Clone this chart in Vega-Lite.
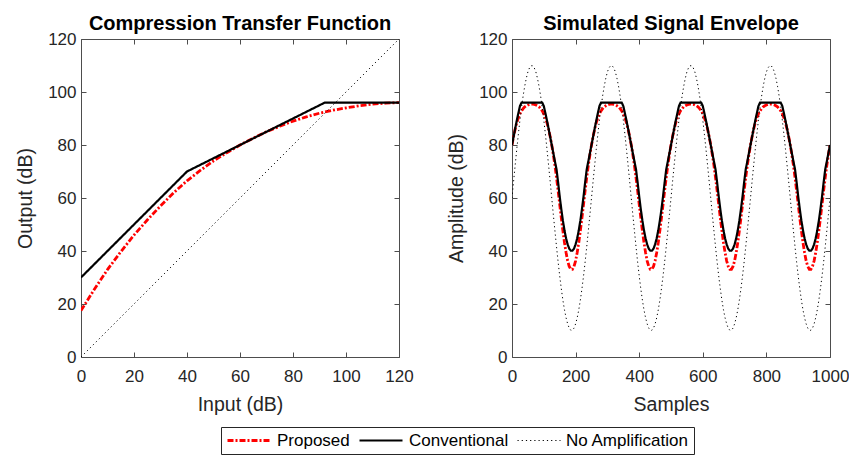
{
  "$schema": "https://vega.github.io/schema/vega-lite/v6.json",
  "padding": {"left": 15, "top": 14, "right": 0, "bottom": 0},
  "background": "white",
  "datasets": {
    "tf": [
      {"x": 0, "y": 17.5, "s": "p"}, {"x": 5, "y": 25.5, "s": "p"}, {"x": 10, "y": 33, "s": "p"}, {"x": 15, "y": 39.7, "s": "p"},
      {"x": 20, "y": 46, "s": "p"}, {"x": 25, "y": 51.7, "s": "p"}, {"x": 30, "y": 57, "s": "p"}, {"x": 35, "y": 62, "s": "p"},
      {"x": 40, "y": 66.5, "s": "p"}, {"x": 45, "y": 70.4, "s": "p"}, {"x": 50, "y": 74, "s": "p"}, {"x": 55, "y": 77.1, "s": "p"},
      {"x": 60, "y": 80, "s": "p"}, {"x": 65, "y": 82.6, "s": "p"}, {"x": 70, "y": 85, "s": "p"}, {"x": 75, "y": 87.1, "s": "p"},
      {"x": 80, "y": 89, "s": "p"}, {"x": 85, "y": 90.6, "s": "p"}, {"x": 90, "y": 92, "s": "p"}, {"x": 95, "y": 93.1, "s": "p"},
      {"x": 100, "y": 94, "s": "p"}, {"x": 105, "y": 94.8, "s": "p"}, {"x": 110, "y": 95.4, "s": "p"}, {"x": 115, "y": 95.8, "s": "p"},
      {"x": 120, "y": 96, "s": "p"},
      {"x": 0, "y": 30, "s": "c"}, {"x": 40, "y": 70, "s": "c"}, {"x": 92, "y": 96, "s": "c"}, {"x": 120, "y": 96, "s": "c"},
      {"x": 0, "y": 0, "s": "a"}, {"x": 120, "y": 120, "s": "a"}
    ],
    "env": [
      {"n":0,"p":80,"c":80,"a":60},{"n":5,"p":83.2,"c":83.1,"a":66.3},{"n":10,"p":86,"c":86.2,"a":72.4},{"n":15,"p":88.4,"c":89.2,"a":78.4},{"n":20,"p":90.3,"c":92,"a":84.1},
      {"n":25,"p":91.8,"c":94.7,"a":89.4},{"n":30,"p":92.9,"c":96,"a":94.2},{"n":35,"p":93.7,"c":96,"a":98.5},{"n":40,"p":94.4,"c":96,"a":102.2},{"n":45,"p":94.8,"c":96,"a":105.2},
      {"n":50,"p":95.1,"c":96,"a":107.6},{"n":55,"p":95.3,"c":96,"a":109.1},{"n":60,"p":95.4,"c":96,"a":109.9},{"n":65,"p":95.4,"c":96,"a":109.9},{"n":70,"p":95.3,"c":96,"a":109.1},
      {"n":75,"p":95.1,"c":96,"a":107.6},{"n":80,"p":94.8,"c":96,"a":105.2},{"n":85,"p":94.4,"c":96,"a":102.2},{"n":90,"p":93.7,"c":96,"a":98.5},{"n":95,"p":92.9,"c":96,"a":94.2},
      {"n":100,"p":91.8,"c":94.7,"a":89.4},{"n":105,"p":90.3,"c":92,"a":84.1},{"n":110,"p":88.4,"c":89.2,"a":78.4},{"n":115,"p":86,"c":86.2,"a":72.4},{"n":120,"p":83.2,"c":83.1,"a":66.3},
      {"n":125,"p":80,"c":80,"a":60},{"n":130,"p":76.3,"c":76.9,"a":53.7},{"n":135,"p":72.3,"c":73.8,"a":47.6},{"n":140,"p":67.7,"c":70.8,"a":41.6},{"n":145,"p":62.8,"c":65.9,"a":35.9},
      {"n":150,"p":57.6,"c":60.6,"a":30.6},{"n":155,"p":52.5,"c":55.8,"a":25.8},{"n":160,"p":47.7,"c":51.5,"a":21.5},{"n":165,"p":43.2,"c":47.8,"a":17.8},{"n":170,"p":39.4,"c":44.8,"a":14.8},
      {"n":175,"p":36.3,"c":42.5,"a":12.5},{"n":180,"p":34.2,"c":40.9,"a":10.9},{"n":185,"p":33.1,"c":40.1,"a":10.1},{"n":190,"p":33.1,"c":40.1,"a":10.1},{"n":195,"p":34.2,"c":40.9,"a":10.9},
      {"n":200,"p":36.3,"c":42.5,"a":12.5},{"n":205,"p":39.4,"c":44.8,"a":14.8},{"n":210,"p":43.2,"c":47.8,"a":17.8},{"n":215,"p":47.7,"c":51.5,"a":21.5},{"n":220,"p":52.5,"c":55.8,"a":25.8},
      {"n":225,"p":57.6,"c":60.6,"a":30.6},{"n":230,"p":62.8,"c":65.9,"a":35.9},{"n":235,"p":67.7,"c":70.8,"a":41.6},{"n":240,"p":72.3,"c":73.8,"a":47.6},{"n":245,"p":76.3,"c":76.9,"a":53.7},
      {"n":250,"p":80,"c":80,"a":60},{"n":255,"p":83.2,"c":83.1,"a":66.3},{"n":260,"p":86,"c":86.2,"a":72.4},{"n":265,"p":88.4,"c":89.2,"a":78.4},{"n":270,"p":90.3,"c":92,"a":84.1},
      {"n":275,"p":91.8,"c":94.7,"a":89.4},{"n":280,"p":92.9,"c":96,"a":94.2},{"n":285,"p":93.7,"c":96,"a":98.5},{"n":290,"p":94.4,"c":96,"a":102.2},{"n":295,"p":94.8,"c":96,"a":105.2},
      {"n":300,"p":95.1,"c":96,"a":107.6},{"n":305,"p":95.3,"c":96,"a":109.1},{"n":310,"p":95.4,"c":96,"a":109.9},{"n":315,"p":95.4,"c":96,"a":109.9},{"n":320,"p":95.3,"c":96,"a":109.1},
      {"n":325,"p":95.1,"c":96,"a":107.6},{"n":330,"p":94.8,"c":96,"a":105.2},{"n":335,"p":94.4,"c":96,"a":102.2},{"n":340,"p":93.7,"c":96,"a":98.5},{"n":345,"p":92.9,"c":96,"a":94.2},
      {"n":350,"p":91.8,"c":94.7,"a":89.4},{"n":355,"p":90.3,"c":92,"a":84.1},{"n":360,"p":88.4,"c":89.2,"a":78.4},{"n":365,"p":86,"c":86.2,"a":72.4},{"n":370,"p":83.2,"c":83.1,"a":66.3},
      {"n":375,"p":80,"c":80,"a":60},{"n":380,"p":76.3,"c":76.9,"a":53.7},{"n":385,"p":72.3,"c":73.8,"a":47.6},{"n":390,"p":67.7,"c":70.8,"a":41.6},{"n":395,"p":62.8,"c":65.9,"a":35.9},
      {"n":400,"p":57.6,"c":60.6,"a":30.6},{"n":405,"p":52.5,"c":55.8,"a":25.8},{"n":410,"p":47.7,"c":51.5,"a":21.5},{"n":415,"p":43.2,"c":47.8,"a":17.8},{"n":420,"p":39.4,"c":44.8,"a":14.8},
      {"n":425,"p":36.3,"c":42.5,"a":12.5},{"n":430,"p":34.2,"c":40.9,"a":10.9},{"n":435,"p":33.1,"c":40.1,"a":10.1},{"n":440,"p":33.1,"c":40.1,"a":10.1},{"n":445,"p":34.2,"c":40.9,"a":10.9},
      {"n":450,"p":36.3,"c":42.5,"a":12.5},{"n":455,"p":39.4,"c":44.8,"a":14.8},{"n":460,"p":43.2,"c":47.8,"a":17.8},{"n":465,"p":47.7,"c":51.5,"a":21.5},{"n":470,"p":52.5,"c":55.8,"a":25.8},
      {"n":475,"p":57.6,"c":60.6,"a":30.6},{"n":480,"p":62.8,"c":65.9,"a":35.9},{"n":485,"p":67.7,"c":70.8,"a":41.6},{"n":490,"p":72.3,"c":73.8,"a":47.6},{"n":495,"p":76.3,"c":76.9,"a":53.7},
      {"n":500,"p":80,"c":80,"a":60},{"n":505,"p":83.2,"c":83.1,"a":66.3},{"n":510,"p":86,"c":86.2,"a":72.4},{"n":515,"p":88.4,"c":89.2,"a":78.4},{"n":520,"p":90.3,"c":92,"a":84.1},
      {"n":525,"p":91.8,"c":94.7,"a":89.4},{"n":530,"p":92.9,"c":96,"a":94.2},{"n":535,"p":93.7,"c":96,"a":98.5},{"n":540,"p":94.4,"c":96,"a":102.2},{"n":545,"p":94.8,"c":96,"a":105.2},
      {"n":550,"p":95.1,"c":96,"a":107.6},{"n":555,"p":95.3,"c":96,"a":109.1},{"n":560,"p":95.4,"c":96,"a":109.9},{"n":565,"p":95.4,"c":96,"a":109.9},{"n":570,"p":95.3,"c":96,"a":109.1},
      {"n":575,"p":95.1,"c":96,"a":107.6},{"n":580,"p":94.8,"c":96,"a":105.2},{"n":585,"p":94.4,"c":96,"a":102.2},{"n":590,"p":93.7,"c":96,"a":98.5},{"n":595,"p":92.9,"c":96,"a":94.2},
      {"n":600,"p":91.8,"c":94.7,"a":89.4},{"n":605,"p":90.3,"c":92,"a":84.1},{"n":610,"p":88.4,"c":89.2,"a":78.4},{"n":615,"p":86,"c":86.2,"a":72.4},{"n":620,"p":83.2,"c":83.1,"a":66.3},
      {"n":625,"p":80,"c":80,"a":60},{"n":630,"p":76.3,"c":76.9,"a":53.7},{"n":635,"p":72.3,"c":73.8,"a":47.6},{"n":640,"p":67.7,"c":70.8,"a":41.6},{"n":645,"p":62.8,"c":65.9,"a":35.9},
      {"n":650,"p":57.6,"c":60.6,"a":30.6},{"n":655,"p":52.5,"c":55.8,"a":25.8},{"n":660,"p":47.7,"c":51.5,"a":21.5},{"n":665,"p":43.2,"c":47.8,"a":17.8},{"n":670,"p":39.4,"c":44.8,"a":14.8},
      {"n":675,"p":36.3,"c":42.5,"a":12.5},{"n":680,"p":34.2,"c":40.9,"a":10.9},{"n":685,"p":33.1,"c":40.1,"a":10.1},{"n":690,"p":33.1,"c":40.1,"a":10.1},{"n":695,"p":34.2,"c":40.9,"a":10.9},
      {"n":700,"p":36.3,"c":42.5,"a":12.5},{"n":705,"p":39.4,"c":44.8,"a":14.8},{"n":710,"p":43.2,"c":47.8,"a":17.8},{"n":715,"p":47.7,"c":51.5,"a":21.5},{"n":720,"p":52.5,"c":55.8,"a":25.8},
      {"n":725,"p":57.6,"c":60.6,"a":30.6},{"n":730,"p":62.8,"c":65.9,"a":35.9},{"n":735,"p":67.7,"c":70.8,"a":41.6},{"n":740,"p":72.3,"c":73.8,"a":47.6},{"n":745,"p":76.3,"c":76.9,"a":53.7},
      {"n":750,"p":80,"c":80,"a":60},{"n":755,"p":83.2,"c":83.1,"a":66.3},{"n":760,"p":86,"c":86.2,"a":72.4},{"n":765,"p":88.4,"c":89.2,"a":78.4},{"n":770,"p":90.3,"c":92,"a":84.1},
      {"n":775,"p":91.8,"c":94.7,"a":89.4},{"n":780,"p":92.9,"c":96,"a":94.2},{"n":785,"p":93.7,"c":96,"a":98.5},{"n":790,"p":94.4,"c":96,"a":102.2},{"n":795,"p":94.8,"c":96,"a":105.2},
      {"n":800,"p":95.1,"c":96,"a":107.6},{"n":805,"p":95.3,"c":96,"a":109.1},{"n":810,"p":95.4,"c":96,"a":109.9},{"n":815,"p":95.4,"c":96,"a":109.9},{"n":820,"p":95.3,"c":96,"a":109.1},
      {"n":825,"p":95.1,"c":96,"a":107.6},{"n":830,"p":94.8,"c":96,"a":105.2},{"n":835,"p":94.4,"c":96,"a":102.2},{"n":840,"p":93.7,"c":96,"a":98.5},{"n":845,"p":92.9,"c":96,"a":94.2},
      {"n":850,"p":91.8,"c":94.7,"a":89.4},{"n":855,"p":90.3,"c":92,"a":84.1},{"n":860,"p":88.4,"c":89.2,"a":78.4},{"n":865,"p":86,"c":86.2,"a":72.4},{"n":870,"p":83.2,"c":83.1,"a":66.3},
      {"n":875,"p":80,"c":80,"a":60},{"n":880,"p":76.3,"c":76.9,"a":53.7},{"n":885,"p":72.3,"c":73.8,"a":47.6},{"n":890,"p":67.7,"c":70.8,"a":41.6},{"n":895,"p":62.8,"c":65.9,"a":35.9},
      {"n":900,"p":57.6,"c":60.6,"a":30.6},{"n":905,"p":52.5,"c":55.8,"a":25.8},{"n":910,"p":47.7,"c":51.5,"a":21.5},{"n":915,"p":43.2,"c":47.8,"a":17.8},{"n":920,"p":39.4,"c":44.8,"a":14.8},
      {"n":925,"p":36.3,"c":42.5,"a":12.5},{"n":930,"p":34.2,"c":40.9,"a":10.9},{"n":935,"p":33.1,"c":40.1,"a":10.1},{"n":940,"p":33.1,"c":40.1,"a":10.1},{"n":945,"p":34.2,"c":40.9,"a":10.9},
      {"n":950,"p":36.3,"c":42.5,"a":12.5},{"n":955,"p":39.4,"c":44.8,"a":14.8},{"n":960,"p":43.2,"c":47.8,"a":17.8},{"n":965,"p":47.7,"c":51.5,"a":21.5},{"n":970,"p":52.5,"c":55.8,"a":25.8},
      {"n":975,"p":57.6,"c":60.6,"a":30.6},{"n":980,"p":62.8,"c":65.9,"a":35.9},{"n":985,"p":67.7,"c":70.8,"a":41.6},{"n":990,"p":72.3,"c":73.8,"a":47.6},{"n":995,"p":76.3,"c":76.9,"a":53.7},
      {"n":1000,"p":80,"c":80,"a":60}
    ]
  },
  "config": {
    "view": {"stroke": null},
    "font": "Liberation Sans",
    "axis": {
      "grid": false, "domainColor": "#4d4d4d", "domainWidth": 1, "tickColor": "#4d4d4d", "tickSize": -5, "tickWidth": 1,
      "labelFont": "Liberation Sans", "labelFontSize": 17, "labelColor": "#262626",
      "titleFont": "Liberation Sans", "titleFontSize": 19.5, "titleFontWeight": "normal", "titleColor": "#262626"
    },
    "axisX": {"labelPadding": 16, "titlePadding": 11, "labelFlush": false},
    "axisY": {"labelPadding": 10, "titlePadding": 12},
    "title": {"font": "Liberation Sans", "fontSize": 20, "fontWeight": "bold", "color": "#000000", "frame": "group", "anchor": "middle", "offset": -4},
    "legend": {
      "strokeColor": "#262626", "fillColor": "#ffffff", "padding": 5, "symbolType": "stroke", "symbolSize": 1849, "clipHeight": 17,
      "labelFont": "Liberation Sans", "labelFontSize": 17, "labelColor": "#000000", "columnPadding": 8, "labelOffset": 5
    }
  },
  "resolve": {
    "scale": {"x": "independent", "y": "independent", "color": "shared", "strokeDash": "shared", "strokeWidth": "shared"},
    "legend": {"color": "shared", "strokeDash": "shared", "strokeWidth": "shared"}
  },
  "spacing": 32,
  "hconcat": [
    {
      "width": 318, "height": 318,
      "title": "Compression Transfer Function",
      "data": {"name": "tf"},
      "layer": [
        {
          "mark": {"type": "line", "clip": true},
          "encoding": {
            "x": {"field": "x", "type": "quantitative", "scale": {"domain": [0, 120], "nice": false}, "axis": {"values": [0, 20, 40, 60, 80, 100, 120], "title": "Input (dB)"}},
            "y": {"field": "y", "type": "quantitative", "scale": {"domain": [0, 120], "nice": false}, "axis": {"values": [0, 20, 40, 60, 80, 100, 120], "title": "Output (dB)"}},
            "color": {"field": "s", "type": "nominal", "scale": {"domain": ["p", "c", "a"], "range": ["#ff0000", "#000000", "#000000"]},
              "legend": {"orient": "none", "direction": "horizontal", "title": null, "legendX": 140, "legendY": 388,
                "labelExpr": "datum.label == 'p' ? 'Proposed' : datum.label == 'c' ? 'Conventional' : 'No Amplification'"}},
            "strokeDash": {"field": "s", "type": "nominal", "scale": {"domain": ["p", "c", "a"], "range": [[6, 2, 2, 2], [1, 0], [1.2, 3]]}},
            "strokeWidth": {"field": "s", "type": "nominal", "scale": {"type": "ordinal", "domain": ["p", "c", "a"], "range": [2.8, 2.2, 1]}}
          }
        },
        {
          "mark": {"type": "line", "opacity": 0},
          "encoding": {
            "x": {"field": "x", "type": "quantitative", "axis": {"orient": "top", "labels": false, "title": null, "values": [0, 20, 40, 60, 80, 100, 120]}},
            "y": {"field": "y", "type": "quantitative", "axis": {"orient": "right", "labels": false, "title": null, "values": [0, 20, 40, 60, 80, 100, 120]}}
          }
        }
      ],
      "resolve": {"axis": {"x": "independent", "y": "independent"}}
    },
    {
      "width": 318, "height": 318,
      "title": "Simulated Signal Envelope",
      "data": {"name": "env"},
      "transform": [{"fold": ["p", "c", "a"], "as": ["s", "y"]}],
      "layer": [
        {
          "mark": {"type": "line", "clip": true},
          "encoding": {
            "x": {"field": "n", "type": "quantitative", "scale": {"domain": [0, 1000], "nice": false}, "axis": {"values": [0, 200, 400, 600, 800, 1000], "format": "d", "title": "Samples"}},
            "y": {"field": "y", "type": "quantitative", "scale": {"domain": [0, 120], "nice": false}, "axis": {"values": [0, 20, 40, 60, 80, 100, 120], "title": "Amplitude (dB)"}},
            "color": {"field": "s", "type": "nominal", "scale": {"domain": ["p", "c", "a"], "range": ["#ff0000", "#000000", "#000000"]}},
            "strokeDash": {"field": "s", "type": "nominal", "scale": {"domain": ["p", "c", "a"], "range": [[6, 2, 2, 2], [1, 0], [1.2, 3]]}},
            "strokeWidth": {"field": "s", "type": "nominal", "scale": {"type": "ordinal", "domain": ["p", "c", "a"], "range": [2.8, 2.2, 1]}}
          }
        },
        {
          "mark": {"type": "line", "opacity": 0},
          "encoding": {
            "x": {"field": "n", "type": "quantitative", "axis": {"orient": "top", "labels": false, "title": null, "values": [0, 200, 400, 600, 800, 1000]}},
            "y": {"field": "y", "type": "quantitative", "axis": {"orient": "right", "labels": false, "title": null, "values": [0, 20, 40, 60, 80, 100, 120]}}
          }
        }
      ],
      "resolve": {"axis": {"x": "independent", "y": "independent"}}
    }
  ]
}
